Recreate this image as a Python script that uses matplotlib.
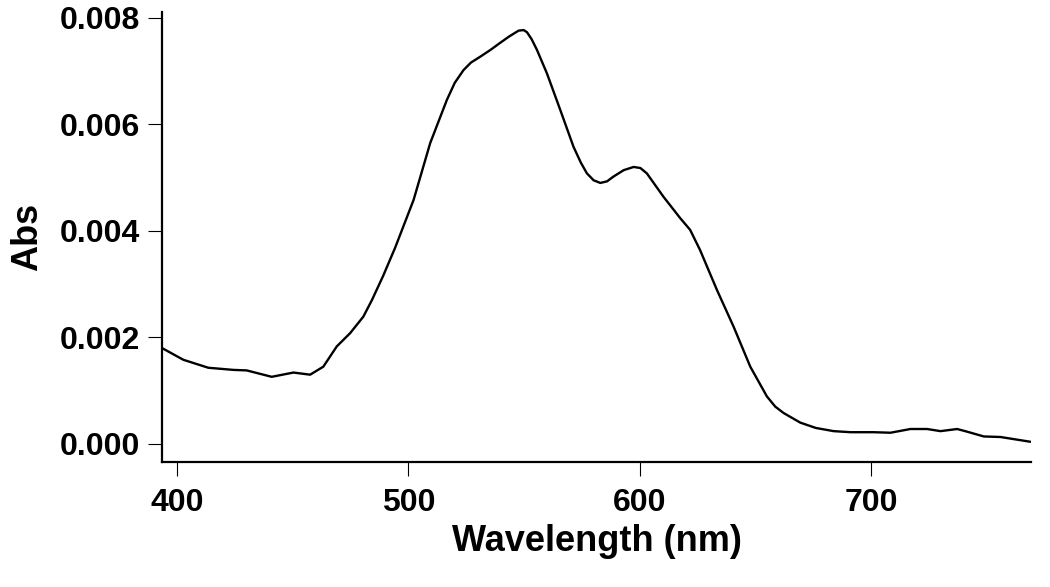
import matplotlib
matplotlib.use("Agg")
import matplotlib.pyplot as plt

# absorbance spectrum
wavelength = [393.5, 402.7, 413.5, 424.3, 430.1, 440.9, 450.3, 457.5, 463.2, 469.0,
              474.8, 480.5, 484.2, 489.0, 494.2, 502.2, 509.4, 516.6, 520.0, 523.8,
              527.0, 531.0, 535.5, 539.6, 543.5, 547.6, 549.8, 551.2, 553.2, 555.5,
              559.8, 565.6, 571.3, 574.5, 577.1, 580.0, 582.9, 585.8, 588.6, 593.0,
              597.3, 600.2, 603.0, 610.2, 617.4, 621.7, 626.0, 633.3, 640.5, 647.7,
              654.9, 658.5, 662.1, 669.3, 676.0, 683.7, 691.0, 701.0, 708.3, 716.9,
              724.1, 729.9, 737.1, 741.4, 748.6, 755.8, 768.8]
absorbance = [0.00180, 0.00158, 0.00143, 0.00139, 0.00138, 0.00126, 0.00134, 0.00130, 0.00145, 0.00183,
              0.00208, 0.00239, 0.00270, 0.00315, 0.00368, 0.00458, 0.00565, 0.00646, 0.00678, 0.00702,
              0.00716, 0.00727, 0.00740, 0.00753, 0.00765, 0.00776, 0.00777, 0.00773, 0.00760, 0.00740,
              0.00696, 0.00627, 0.00558, 0.00528, 0.00508, 0.00495, 0.00490, 0.00493, 0.00502, 0.00514,
              0.00520, 0.00518, 0.00508, 0.00464, 0.00424, 0.00402, 0.00364, 0.00289, 0.00220, 0.00145,
              0.00089, 0.00070, 0.00058, 0.00040, 0.00030, 0.00024, 0.00022, 0.00022, 0.00021, 0.00028,
              0.00028, 0.00024, 0.00028, 0.00023, 0.00014, 0.00013, 0.00004]

x_ticks = [400, 500, 600, 700]
y_ticks = [0.000, 0.002, 0.004, 0.006, 0.008]
y_tick_labels = ["0.000", "0.002", "0.004", "0.006", "0.008"]

plt.rcParams["font.family"] = ["Liberation Sans", "DejaVu Sans"]
plt.rcParams["font.weight"] = "bold"

fig = plt.figure(figsize=(10.5, 5.87), dpi=100)
ax = fig.add_axes([0.1543, 0.2129, 0.8276, 0.7667])
ax.plot(wavelength, absorbance, color="black", linewidth=1.7,
        solid_joinstyle="round", solid_capstyle="round")

ax.set_xlim(393.5, 769)
ax.set_ylim(-0.00034, 0.00811)
ax.set_xticks(x_ticks)
ax.set_yticks(y_ticks)
ax.set_yticklabels(y_tick_labels)
ax.tick_params(axis="both", direction="out", length=10, width=0.8,
               labelsize=23, pad=6)
ax.tick_params(axis="x", pad=9)
for lab in ax.get_xticklabels() + ax.get_yticklabels():
    lab.set_fontweight("bold")

for side in ("top", "right"):
    ax.spines[side].set_visible(False)
for side in ("left", "bottom"):
    ax.spines[side].set_linewidth(1.6)

ax.set_xlabel("Wavelength (nm)", fontsize=26, fontweight="bold", labelpad=4)
ax.set_ylabel("Abs", fontsize=26, fontweight="bold", labelpad=10)

fig.savefig("out.png", dpi=100, facecolor="white")
